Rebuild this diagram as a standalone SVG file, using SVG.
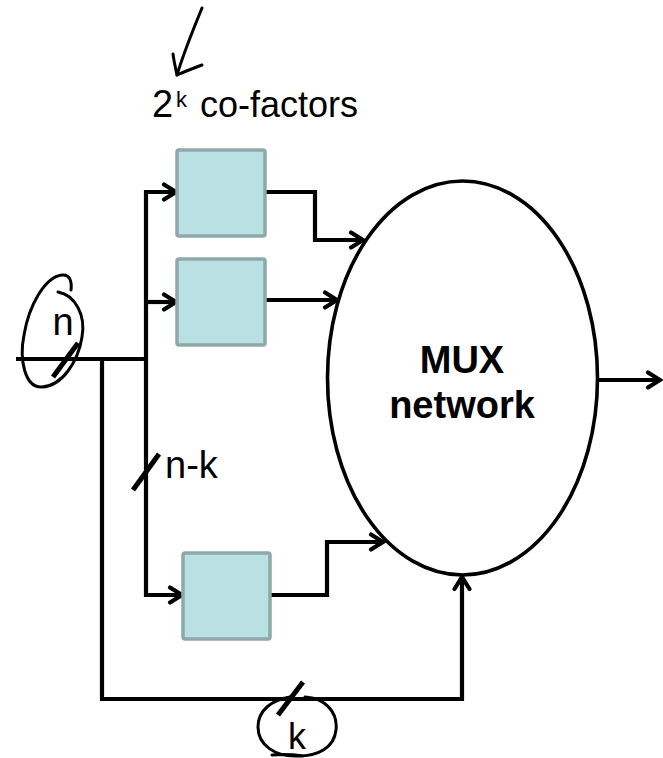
<svg xmlns="http://www.w3.org/2000/svg" width="663" height="758" viewBox="0 0 663 758">
<style>
.box{fill:#b9e0e3;stroke:#8fa8aa;stroke-width:3.5}
.w{fill:none;stroke:#000;stroke-width:4.2;stroke-linejoin:miter}
.hand{fill:none;stroke:#000;stroke-width:3;stroke-linecap:round;stroke-linejoin:round}
.slash{fill:none;stroke:#000;stroke-width:5}
.t{font-family:"Liberation Sans",Arial,sans-serif;fill:#000}
</style>
<defs>
<marker id="ah" markerWidth="20" markerHeight="20" refX="15" refY="10" orient="auto" markerUnits="userSpaceOnUse">
<path d="M3,2.5 L15,10 L3,17.5" fill="none" stroke="#000" stroke-width="4.2" stroke-linecap="round" stroke-linejoin="miter"/>
</marker>
</defs>
<rect width="663" height="758" fill="#fff"/>
<g id="connectors">
<path class="w" d="M16,359 H146"/>
<path class="w" d="M146,359 V192 H176" marker-end="url(#ah)"/>
<path class="w" d="M146,302 H176" marker-end="url(#ah)"/>
<path class="w" d="M146,359 V595 H182" marker-end="url(#ah)"/>
<path class="w" d="M265,192 H315 V240 H363" marker-end="url(#ah)"/>
<path class="w" d="M265,300 H337" marker-end="url(#ah)"/>
<path class="w" d="M270,595 H327 V542 H383" marker-end="url(#ah)"/>
<path class="w" d="M102,359 V699 H462 V577" marker-end="url(#ah)"/>
<path class="w" d="M598,380 H660" marker-end="url(#ah)"/>
</g>
<g id="cofactor1"><rect class="box" x="177" y="150" width="88" height="86" rx="2"/></g>
<g id="cofactor2"><rect class="box" x="177" y="259" width="88" height="86" rx="2"/></g>
<g id="cofactor3"><rect class="box" x="183" y="553" width="87" height="86" rx="2"/></g>
<g id="mux">
<ellipse cx="462.5" cy="378" rx="135" ry="197" fill="#fff" stroke="#000" stroke-width="3.6"/>
<text class="t" x="462" y="373" font-size="38" font-weight="bold" text-anchor="middle">MUX</text>
<text class="t" x="462" y="418" font-size="38" font-weight="bold" text-anchor="middle">network</text>
</g>
<g id="label-cofactors">
<text class="t" x="152" y="117" font-size="38">2<tspan x="176" y="107" font-size="22">k</tspan><tspan x="200" y="117" font-size="36">co-factors</tspan></text>
<path class="hand" d="M202,8 C195,25 183,55 177,75"/>
<path class="hand" d="M173,54 C174,62 176,70 177,75 C186,71 194,68 202,65"/>
</g>
<g id="label-n">
<text class="t" x="63" y="335" font-size="38" text-anchor="middle">n</text>
<path class="hand" d="M58,292 C75,295 86,315 82,337 C78,362 62,386 42,387 C25,388 19,360 24,335 C29,305 45,277 62,275 C70,274 72,282 71,290"/>
<path class="slash" d="M53,377 L78,343"/>
</g>
<g id="label-nk">
<path class="slash" d="M133,490 L159,454"/>
<text class="t" x="165" y="478" font-size="38">n-k</text>
</g>
<g id="label-k">
<path class="slash" d="M278,715 L303,682"/>
<path class="hand" d="M305,697 C325,698 338,712 336,730 C334,748 318,756 298,756 C275,757 258,745 258,727 C258,710 272,700 290,697 M272,755 C285,754 296,755 303,756"/>
<text class="t" x="297" y="749" font-size="36" text-anchor="middle">k</text>
</g>
</svg>
